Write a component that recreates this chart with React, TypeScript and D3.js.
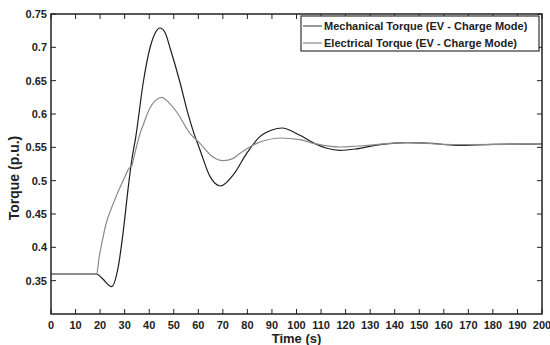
import React from "react";
import { scaleLinear, line, curveMonotoneX, range } from "d3";

// Mechanical torque (EV - charge mode)
const mechTime = [0, 18.6, 21, 24.7, 27.4, 29.5, 31.5, 32.9, 34.5, 37.6, 40.3, 42.5, 44.4, 46.5, 48.5, 52.5, 55.9, 58.4, 60.7, 64.8, 69.1, 74.3, 79.7, 85.1, 90, 94, 101.4, 107.5, 112, 117.7, 124, 132, 145, 155, 165, 180, 200];
const mechValue = [0.36, 0.36, 0.353, 0.341, 0.371, 0.426, 0.491, 0.531, 0.565, 0.648, 0.699, 0.722, 0.729, 0.722, 0.699, 0.648, 0.599, 0.569, 0.546, 0.506, 0.492, 0.509, 0.541, 0.566, 0.576, 0.579, 0.568, 0.5555, 0.549, 0.5455, 0.5475, 0.553, 0.557, 0.556, 0.553, 0.5545, 0.555];

// Electrical torque (EV - charge mode)
const elecTime = [0, 18.6, 19.6, 20.8, 22.2, 25.4, 29.5, 31.9, 32.9, 33.5, 36.3, 37.6, 40.3, 42.5, 45.1, 48, 51.2, 56.6, 60.7, 64.8, 70.2, 74, 77, 83.8, 88, 93.3, 101.4, 107.5, 117.7, 125, 145, 165, 200];
const elecValue = [0.36, 0.36, 0.385, 0.408, 0.432, 0.466, 0.501, 0.519, 0.522, 0.531, 0.571, 0.584, 0.609, 0.62, 0.625, 0.617, 0.603, 0.571, 0.556, 0.539, 0.53, 0.533, 0.541, 0.556, 0.561, 0.564, 0.5615, 0.5555, 0.5505, 0.552, 0.557, 0.554, 0.555];

const xTicks = range(0, 201, 10);
const yTicks = [0.35, 0.4, 0.45, 0.5, 0.55, 0.6, 0.65, 0.7, 0.75];
const legendLabels = ["Mechanical Torque (EV - Charge Mode)", "Electrical Torque (EV - Charge Mode)"];

const width = 550;
const height = 345;
const margin = { top: 14, right: 8, bottom: 31, left: 51 };
const font = "'Liberation Sans', Arial, sans-serif";

export default function App() {
  const innerWidth = width - margin.left - margin.right;
  const innerHeight = height - margin.top - margin.bottom;

  const xScale = scaleLinear().domain([0, 200]).range([0, innerWidth]);
  const yScale = scaleLinear().domain([0.3, 0.75]).range([innerHeight, 0]);

  const makePath = (ts: number[], vs: number[]) =>
    line<number>()
      .x((t) => xScale(t))
      .y((_, i) => yScale(vs[i]))
      .curve(curveMonotoneX)(ts);

  const series = [
    { name: legendLabels[0], d: makePath(mechTime, mechValue), color: "#1e1e1e", legendColor: "#555" },
    { name: legendLabels[1], d: makePath(elecTime, elecValue), color: "#8a8a8a", legendColor: "#8a8a8a" },
  ];

  const tickLen = 5;

  return (
    <svg
      width={width}
      height={height}
      style={{ position: "absolute", left: 0, top: 0, background: "#fff" }}
    >
      <g transform={`translate(${margin.left},${margin.top})`}>
        {series.map((s) => (
          <path key={s.name} d={s.d ?? ""} fill="none" stroke={s.color} strokeWidth={1.2} />
        ))}

        {/* ticks, inward on all four sides */}
        {xTicks.map((t) => (
          <g key={`x${t}`}>
            <line x1={xScale(t)} x2={xScale(t)} y1={innerHeight} y2={innerHeight - tickLen} stroke="#222" />
            <line x1={xScale(t)} x2={xScale(t)} y1={0} y2={tickLen} stroke="#222" />
            <text
              x={xScale(t)}
              y={innerHeight + 15}
              textAnchor="middle"
              fontFamily={font}
              fontWeight="bold"
              fontSize={11}
              fill="#222"
            >
              {t}
            </text>
          </g>
        ))}
        {yTicks.map((v) => (
          <g key={`y${v}`}>
            <line x1={0} x2={tickLen} y1={yScale(v)} y2={yScale(v)} stroke="#222" />
            <line x1={innerWidth} x2={innerWidth - tickLen} y1={yScale(v)} y2={yScale(v)} stroke="#222" />
            <text
              x={-4}
              y={yScale(v) + 4}
              textAnchor="end"
              fontFamily={font}
              fontWeight="bold"
              fontSize={11}
              fill="#222"
            >
              {v}
            </text>
          </g>
        ))}

        <rect x={0} y={0} width={innerWidth} height={innerHeight} fill="none" stroke="#222" strokeWidth={1.5} />

        {/* legend */}
        <g transform={`translate(${innerWidth - 241},2)`}>
          <rect x={0} y={0} width={238} height={35} fill="#fff" stroke="#333" strokeWidth={1.2} />
          {series.map((s, i) => (
            <g key={s.name} transform={`translate(0,${10 + i * 17})`}>
              <line x1={2} x2={21} y1={0} y2={0} stroke={s.legendColor} strokeWidth={1.2} />
              <text x={23} y={4} fontFamily={font} fontWeight="bold" fontSize={11} fill="#222">
                {s.name}
              </text>
            </g>
          ))}
        </g>

        <text
          x={innerWidth / 2}
          y={innerHeight + 29}
          textAnchor="middle"
          fontFamily={font}
          fontWeight="bold"
          fontSize={13}
          fill="#222"
        >
          Time (s)
        </text>
        <text
          transform={`translate(${-32},${innerHeight / 2 + 14}) rotate(-90)`}
          textAnchor="middle"
          fontFamily={font}
          fontWeight="bold"
          fontSize={14}
          fill="#222"
        >
          Torque (p.u.)
        </text>
      </g>
    </svg>
  );
}
